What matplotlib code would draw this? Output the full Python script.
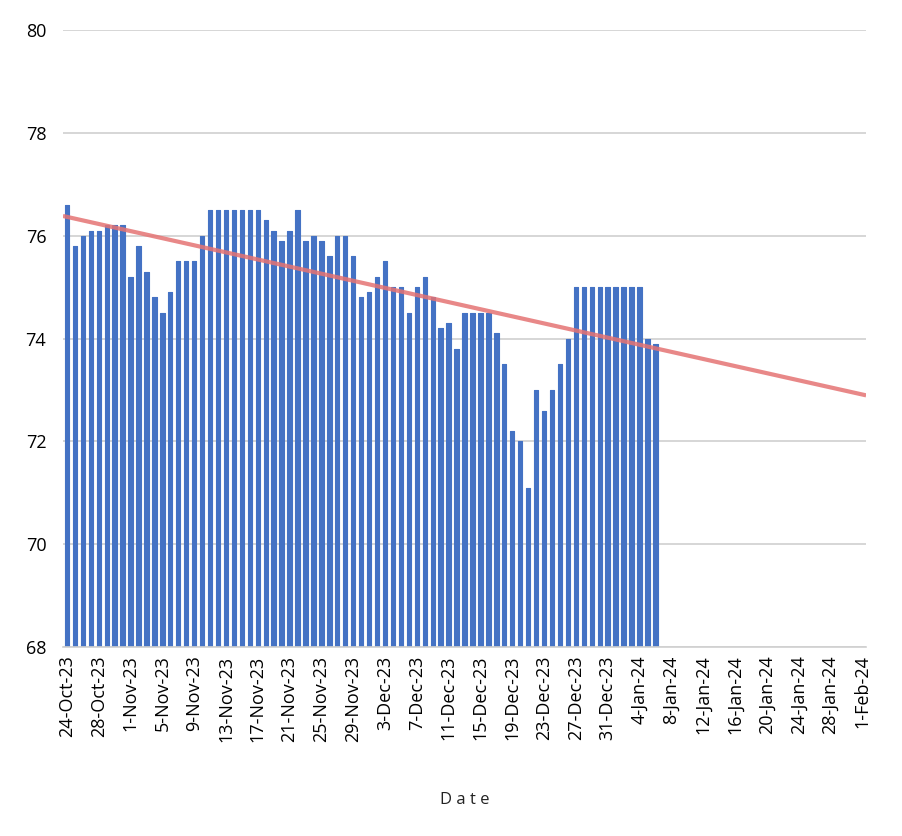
import numpy as np
import pandas as pd
import matplotlib
matplotlib.use("Agg")
import matplotlib.pyplot as plt
import matplotlib.dates as mdates

plt.rcParams['font.family'] = ['Open Sans', 'DejaVu Sans']

# daily readings, 24-Oct-23 .. 6-Jan-24
start = "2023-10-24"
values = [76.6, 75.8, 76.0, 76.1, 76.1, 76.2, 76.2, 76.2, 75.2, 75.8,
          75.3, 74.8, 74.5, 74.9, 75.5, 75.5, 75.5, 76.0, 76.5, 76.5,
          76.5, 76.5, 76.5, 76.5, 76.5, 76.3, 76.1, 75.9, 76.1, 76.5,
          75.9, 76.0, 75.9, 75.6, 76.0, 76.0, 75.6, 74.8, 74.9, 75.2,
          75.5, 75.0, 75.0, 74.5, 75.0, 75.2, 74.8, 74.2, 74.3, 73.8,
          74.5, 74.5, 74.5, 74.5, 74.1, 73.5, 72.2, 72.0, 71.1, 73.0,
          72.6, 73.0, 73.5, 74.0, 75.0, 75.0, 75.0, 75.0, 75.0, 75.0,
          75.0, 75.0, 75.0, 74.0, 73.9]
axis_end = "2024-02-01"

dates = pd.date_range(start, periods=len(values), freq="D")
ticks = pd.date_range(start, axis_end, freq="4D")

fig = plt.figure(figsize=(9.02, 8.36), dpi=100)
ax = fig.add_axes([0.0698, 0.226, 0.8904, 0.738])

x = mdates.date2num(dates)
ax.bar(x, values, width=0.55, color='#4472C4', edgecolor='#4472C4',
       linewidth=0.8, joinstyle='round', zorder=2)

# linear trendline, forecast forward to the end of the axis
x0 = mdates.date2num(pd.Timestamp(start))
x1 = mdates.date2num(pd.Timestamp(axis_end))
coef = np.polyfit(x - x0, values, 1)
tx = np.array([x0 - 0.5, x1 + 0.5])
ax.plot(tx, np.polyval(coef, tx - x0), color='#E57373', lw=3, alpha=0.85,
        solid_capstyle='butt', zorder=3)

ax.set_xlim(x0 - 0.5, x1 + 0.5)
ax.set_ylim(68, 80)
ax.set_yticks(range(68, 81, 2))
ax.set_xticks(mdates.date2num(ticks))
ax.set_xticklabels([f"{d.day}-{d.strftime('%b-%y')}" for d in ticks],
                   rotation=90, fontsize=13)
ax.tick_params(axis='y', labelsize=13, length=0, pad=12)
ax.tick_params(axis='x', length=0, pad=6)

ax.grid(axis='y', color='#D0D0D0', lw=1.2, zorder=0)
ax.set_axisbelow(True)
for s in ['top', 'right', 'left']:
    ax.spines[s].set_visible(False)
ax.spines['bottom'].set_color('#D0D0D0')
ax.spines['bottom'].set_linewidth(1.2)

ax.set_xlabel("D a t e", fontsize=12, labelpad=36, color='#222222')

fig.savefig("out.png", dpi=100)
